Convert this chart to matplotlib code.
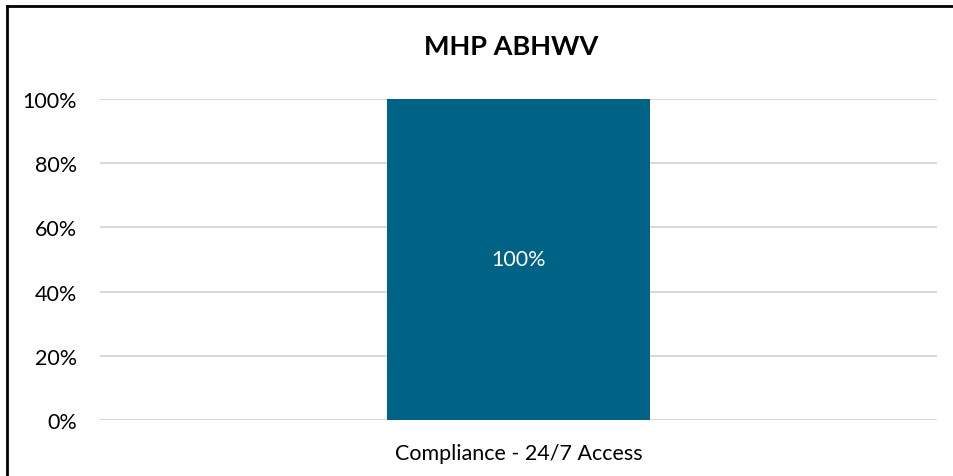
import matplotlib
matplotlib.use("Agg")
import matplotlib.pyplot as plt
from matplotlib.lines import Line2D
from matplotlib.ticker import PercentFormatter

categories = ["Compliance - 24/7 Access"]
values = [100]
yticks = [0, 20, 40, 60, 80, 100]
title = "MHP ABHWV"

plt.rcParams['font.family'] = ['Lato', 'DejaVu Sans']

fig = plt.figure(figsize=(9.54, 4.77), dpi=100)
ax = fig.add_axes([100/954, 1-421/477, 837/954, 321/477])

x = list(range(len(categories)))
bars = ax.bar(x, values, width=0.314, color="#006285", zorder=3)
for b, v in zip(bars, values):
    ax.text(b.get_x() + b.get_width()/2, v/2, f"{v}%", ha="center", va="center",
            color="white", fontsize=15.5, zorder=4)

ax.set_xlim(-0.5, 0.5)
ax.set_ylim(0, 100)
ax.set_yticks(yticks)
ax.yaxis.set_major_formatter(PercentFormatter(decimals=0))
ax.set_xticks(x)
ax.set_xticklabels(categories)
ax.grid(axis="y", color="#D9D9D9", linewidth=1.5, zorder=0)
for s in ax.spines.values():
    s.set_visible(False)
ax.tick_params(axis="both", length=0, labelsize=15.5, colors="black")
ax.tick_params(axis="y", pad=16.5)
ax.tick_params(axis="x", pad=16.5)
fig.text(511/954, 1-47/477, title, fontsize=19.5, fontweight="bold", ha="center", va="center")

# outer border (top and left)
fig.add_artist(Line2D([7/954, 7/954], [0, 1-7/477], transform=fig.transFigure, color="black", linewidth=2))
fig.add_artist(Line2D([7/954, 1], [1-7/477, 1-7/477], transform=fig.transFigure, color="black", linewidth=2))

fig.savefig("out.png", dpi=100, facecolor="white")
